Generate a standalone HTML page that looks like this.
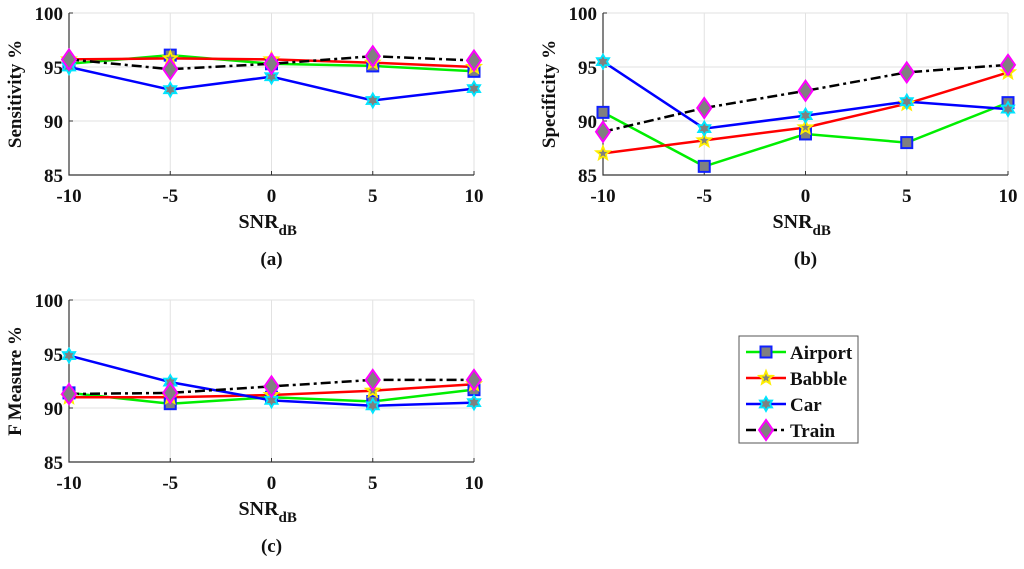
<!DOCTYPE html>
<html><head><meta charset="utf-8"><style>
html,body{margin:0;padding:0;background:#fff;}
svg text{font-family:"Liberation Serif",serif;font-weight:bold;fill:#111;}
</style></head><body>
<svg id="fig" width="1024" height="564" xmlns="http://www.w3.org/2000/svg"></svg>
<script>
const snr = [-10,-5,0,5,10];
const yTicks = [85,90,95,100];
const seriesNames = ["Airport","Babble","Car","Train"];
const sensAirport = [95.3,96.1,95.3,95.1,94.6];
const sensBabble = [95.7,95.8,95.7,95.4,95.0];
const sensCar = [95.0,92.9,94.1,91.9,93.0];
const sensTrain = [95.7,94.8,95.3,96.0,95.6];
const specAirport = [90.8,85.8,88.8,88.0,91.7];
const specBabble = [87.0,88.2,89.4,91.6,94.5];
const specCar = [95.5,89.3,90.5,91.8,91.1];
const specTrain = [89.0,91.2,92.8,94.5,95.2];
const fmAirport = [91.4,90.4,91.0,90.6,91.7];
const fmBabble = [91.0,91.0,91.2,91.6,92.2];
const fmCar = [94.85,92.4,90.7,90.2,90.5];
const fmTrain = [91.3,91.4,92.0,92.6,92.6];

const NS="http://www.w3.org/2000/svg";
const svg=document.getElementById('fig');
function mk(tag,attrs,parent){const e=document.createElementNS(NS,tag);for(const k in attrs)e.setAttribute(k,attrs[k]);(parent||svg).appendChild(e);return e;}
const styles={
 Airport:{line:"#00ee00",dash:"",edge:"#1020ff",mk:"square"},
 Babble:{line:"#ff0000",dash:"",edge:"#ffee00",mk:"star"},
 Car:{line:"#0000ff",dash:"",edge:"#00e5ff",mk:"hex"},
 Train:{line:"#000",dash:"10,4,3,4",edge:"#ff00ff",mk:"diamond"}
};
function marker(g,type,x,y,edge,name){
  let e;
  if(type==="square"){e=mk('rect',{x:x-5.5,y:y-5.5,width:11,height:11,fill:"#808080",stroke:edge,"stroke-width":2},g);}
  else if(type==="diamond"){e=mk('polygon',{points:`${x},${y-10} ${x+7},${y} ${x},${y+10} ${x-7},${y}`,fill:"#808080",stroke:edge,"stroke-width":2},g);}
  else if(type==="star"){let p=[];for(let i=0;i<10;i++){const r=i%2?3:7,a=-Math.PI/2+i*Math.PI/5;p.push((x+r*Math.cos(a)).toFixed(1)+","+(y+r*Math.sin(a)).toFixed(1));}
    e=mk('polygon',{points:p.join(" "),fill:"#808080",stroke:edge,"stroke-width":1.8},g);}
  else {let p=[];for(let i=0;i<12;i++){const r=i%2?4:7,a=-Math.PI/2+i*Math.PI/6;p.push((x+r*Math.cos(a)).toFixed(1)+","+(y+r*Math.sin(a)).toFixed(1));}
    e=mk('polygon',{points:p.join(" "),fill:"#808080",stroke:edge,"stroke-width":1.8},g);}
  
  
}
function panel(id,x0,x1,y0,y1,ylabel,letter,data){
  const g=mk('g',{});
  
  
  const sx=v=>x0+(v+10)/20*(x1-x0);
  const sy=v=>y1-(v-85)/15*(y1-y0);
  snr.forEach(v=>{const l=mk('line',{x1:sx(v),x2:sx(v),y1:y0,y2:y1,stroke:"#e2e2e2","stroke-width":1},g);});
  yTicks.forEach(v=>{const l=mk('line',{x1:x0,x2:x1,y1:sy(v),y2:sy(v),stroke:"#e2e2e2","stroke-width":1},g);});
  const ax=mk('path',{d:`M${x0},${y0} V${y1} H${x1}`,fill:"none",stroke:"#333","stroke-width":1.2},g);
  
  snr.forEach(v=>{mk('line',{x1:sx(v),x2:sx(v),y1:y1,y2:y1-4,stroke:"#333"},g);
    const t=mk('text',{x:sx(v),y:y1+27,"text-anchor":"middle","font-size":19},g);t.textContent=v;
    });
  yTicks.forEach(v=>{mk('line',{x1:x0,x2:x0+4,y1:sy(v),y2:sy(v),stroke:"#333"},g);
    const t=mk('text',{x:x0-6,y:sy(v)+7,"text-anchor":"end","font-size":19},g);t.textContent=v;
    });
  const cy=(y0+y1)/2;
  const yl=mk('text',{x:0,y:0,transform:`translate(${x0-48},${cy}) rotate(-90)`,"text-anchor":"middle","font-size":19},g);
  yl.textContent=ylabel;
  const cx=(x0+x1)/2;
  const xl=mk('text',{x:cx-33,y:y1+53,"font-size":20},g);
  xl.innerHTML='SNR<tspan dy="7" font-size="15">dB</tspan>';
  
  const pl=mk('text',{x:cx,y:y1+90,"text-anchor":"middle","font-size":19},g);pl.textContent=letter;
  
  seriesNames.forEach((n,i)=>{const s=styles[n],vals=data[i];
    const pts=snr.map((v,j)=>sx(v).toFixed(1)+","+sy(vals[j]).toFixed(1)).join(" ");
    const pl2=mk('polyline',{points:pts,fill:"none",stroke:s.line,"stroke-width":2.5,"stroke-dasharray":s.dash},g);
    
  });
  seriesNames.forEach((n,i)=>{const s=styles[n];snr.forEach((v,j)=>marker(g,s.mk,sx(v),sy(data[i][j]),s.edge,'marker-'+n.toLowerCase()));});
}
panel('panel-sensitivity',69,474,13,175,'Sensitivity %','(a)',[sensAirport,sensBabble,sensCar,sensTrain]);
panel('panel-specificity',603,1008,13,175,'Specificity %','(b)',[specAirport,specBabble,specCar,specTrain]);
panel('panel-f-measure',69,474,300,462,'F Measure %','(c)',[fmAirport,fmBabble,fmCar,fmTrain]);
// legend
const lg=mk('g',{});


mk('rect',{x:739,y:336,width:119,height:107,fill:"#fff",stroke:"#555","stroke-width":1},lg);
seriesNames.forEach((n,i)=>{const s=styles[n],y=352+i*26;
  const e=mk('g',{},lg);
  
  
  mk('line',{x1:746,x2:786,y1:y,y2:y,stroke:s.line,"stroke-width":2.5,"stroke-dasharray":s.dash},e);
  marker(e,s.mk,766,y,s.edge,'legend-marker');
  const t=mk('text',{x:790,y:y+7,"font-size":19},e);t.textContent=n;
});
</script>
</body></html>
